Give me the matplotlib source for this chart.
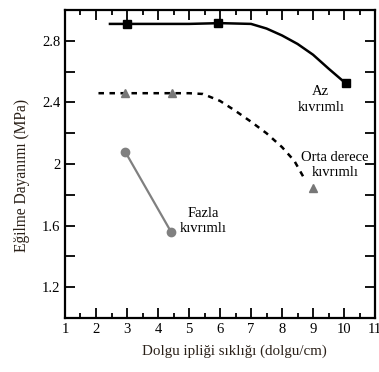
import matplotlib.pyplot as plt
from matplotlib.ticker import MultipleLocator, FixedLocator, FuncFormatter

plt.rcParams['font.family'] = ['Liberation Serif', 'DejaVu Serif']

# Az kıvrımlı: fitted curve and measured points
az_curve_x = [2.45, 3, 4, 5, 6, 7, 7.5, 8, 8.5, 9, 9.5, 10.05]
az_curve_y = [2.91, 2.91, 2.91, 2.91, 2.915, 2.91, 2.88, 2.835, 2.78, 2.71, 2.62, 2.525]
az_x = [3, 5.95, 10.05]
az_y = [2.91, 2.918, 2.525]

# Orta derece kıvrımlı: dashed curve and measured points
orta_curve_x = [2.08, 3, 4, 5, 5.45, 6, 6.5, 7, 7.5, 8, 8.4, 8.75]
orta_curve_y = [2.46, 2.46, 2.46, 2.46, 2.455, 2.41, 2.345, 2.275, 2.2, 2.11, 2.02, 1.895]
orta_x = [2.95, 4.45, 9.0]
orta_y = [2.462, 2.462, 1.847]

# Fazla kıvrımlı
fazla_x = [2.95, 4.42]
fazla_y = [2.077, 1.56]

fig = plt.figure(figsize=(3.79, 3.72), dpi=100)
ax = fig.add_axes([0.1715, 0.145, 0.818, 0.828])

ax.plot(az_curve_x, az_curve_y, color='black', lw=1.8)
ax.plot(az_x, az_y, 's', color='black', ms=6)

ax.plot(orta_curve_x, orta_curve_y, color='black', lw=1.8, linestyle=(0, (2.2, 2.2)))
ax.plot(orta_x, orta_y, '^', color='#777777', ms=6)

ax.plot(fazla_x, fazla_y, '-o', color='#808080', lw=1.6, ms=6)

ax.text(9.25, 2.42, 'Az\nkıvrımlı', ha='center', va='center', fontsize=10.5, linespacing=1.25)
ax.text(9.7, 1.995, 'Orta derece\nkıvrımlı', ha='center', va='center', fontsize=10.5, linespacing=1.25)
ax.text(5.45, 1.63, 'Fazla\nkıvrımlı', ha='center', va='center', fontsize=10.5, linespacing=1.25)

ax.set_xlim(1, 11)
ax.set_ylim(1.0, 3.0)
ax.xaxis.set_major_locator(MultipleLocator(1))
ax.xaxis.set_minor_locator(MultipleLocator(0.5))
ax.yaxis.set_major_locator(FixedLocator([1.2, 1.4, 1.6, 1.8, 2.0, 2.2, 2.4, 2.6, 2.8]))
ax.yaxis.set_major_formatter(FuncFormatter(
    lambda v, p: ('%g' % round(v, 1)) if round(v * 10) % 4 == 0 else ''))
ax.tick_params(which='both', direction='in', top=True, right=True, width=1.3,
               labelsize=10.5, colors='black')
ax.tick_params(which='major', length=7)
ax.tick_params(which='minor', length=3.5)
for s in ax.spines.values():
    s.set_linewidth(1.6)

ax.set_xlabel('Dolgu ipliği sıklığı (dolgu/cm)', fontsize=10.8, color='#2a2018')
ax.set_ylabel('Eğilme Dayanımı (MPa)', fontsize=11.2, color='#2a2018')
ax.xaxis.set_label_coords(0.545, -0.085)
ax.yaxis.set_label_coords(-0.112, 0.464)

fig.savefig('out.png', dpi=100)
